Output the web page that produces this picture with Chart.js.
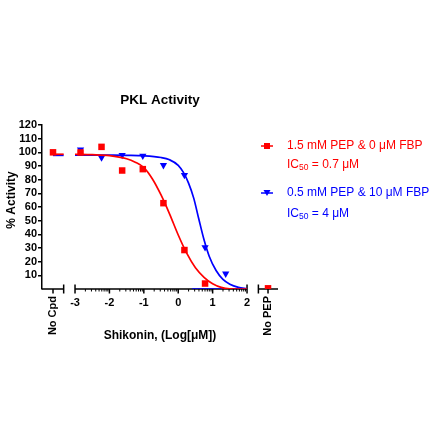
<!DOCTYPE html>
<html lang="en">
<head>
    <meta charset="UTF-8">
    <title>PKL Activity</title>
    <script src="https://cdn.jsdelivr.net/npm/chart.js"></script>
    <style>
        html, body { margin: 0; padding: 0; background: #fff; }
        #chart { display: block; }
    </style>
</head>
<body>
    <canvas id="chart" width="440" height="440"></canvas>

    <script>
        // Shikonin dose, log10[uM] (4-fold dilution series)
        const doseLog = [-2.84, -2.23, -1.63, -1.03, -0.43, 0.18, 0.78, 1.38];
        const redActivity = [99.9, 104, 86.7, 87.7, 62.8, 28.5, 4, null];
        const blueActivity = [102, 96.2, 98, 97.5, 90.6, 83.3, 30.5, 11.2];

        // control columns
        const noCpdX = -3.64;
        const noPepX = 2.61;
        const redNoCpd = 100;
        const redNoPep = 0.5;
        const redNoCpdLine = [98.6, 98.6];
        const blueNoCpdLine = [97.8, 97.8];
        const noCpdLineX = [-3.64, -3.33];

        // fitted curves
        const redFitX = [-3, -2.5, -2, -1.5, -1.25, -1, -0.75, -0.5, -0.25, 0, 0.25, 0.5, 0.75, 1, 1.25, 1.5, 2];
        const redFitY = [98.6, 98.3, 97.6, 95.3, 92.8, 88.8, 80.5, 68.8, 54.8, 39.5, 26, 15.5, 8.5, 3.8, 1.2, 0.2, 0];
        const blueFitX = [-3, -2, -1.5, -1, -0.5, -0.25, 0, 0.15, 0.3, 0.45, 0.6, 0.75, 0.9, 1.1, 1.3, 1.5, 1.75, 2];
        const blueFitY = [98, 97.9, 97.8, 97.5, 96.2, 94.5, 90.5, 85.3, 77.5, 66.5, 51, 36, 24, 13.5, 7, 3.5, 1.2, 0.2];
        const blueBaseX = [0.4, 2];
        const blueBaseY = [0, 0];

        // axis ticks and labels
        const xTickValues = [-3, -2, -1, 0, 1, 2];
        const xCategoryLabels = ['No Cpd', 'No PEP'];
        const yMin = 0, yMax = 120, yStep = 10;

        const chartTitle = 'PKL Activity';
        const xTitle = 'Shikonin, (Log[\u03bcM])';
        const yTitle = '% Activity';
        const seriesLabels = ['1.5 mM PEP & 0 \u03bcM FBP', '0.5 mM PEP & 10 \u03bcM FBP'];
        const ic50Labels = [' = 0.7 \u03bcM', ' = 4 \u03bcM'];

        const RED = 'rgb(255, 0, 0)';
        const BLUE = 'rgb(0, 0, 255)';
        const FONT = '"Liberation Sans", Arial, sans-serif';

        const toPoints = (xs, ys) => xs.map((x, i) => ({ x: x, y: ys[i] }));

        // broken x axis pieces (in axis units)
        const axisPieces = [
            { from: -3.96, to: -3.33, capStart: false, capEnd: true },
            { from: -3, to: 2, capStart: true, capEnd: true },
            { from: 2.33, to: 2.9, capStart: true, capEnd: false }
        ];

        const brokenAxis = {
            id: 'brokenAxis',
            beforeDatasetsDraw(chart) {
                const ctx = chart.ctx;
                const xs = chart.scales.x;
                const y0 = chart.scales.y.getPixelForValue(0);
                ctx.save();
                ctx.strokeStyle = '#000';
                ctx.lineWidth = 1.5;
                ctx.beginPath();
                axisPieces.forEach(p => {
                    const a = xs.getPixelForValue(p.from);
                    const b = xs.getPixelForValue(p.to);
                    ctx.moveTo(a, y0); ctx.lineTo(b, y0);
                    if (p.capStart) { ctx.moveTo(a, y0 - 4.5); ctx.lineTo(a, y0 + 4.5); }
                    if (p.capEnd) { ctx.moveTo(b, y0 - 4.5); ctx.lineTo(b, y0 + 4.5); }
                });
                xTickValues.concat([noCpdX, noPepX]).forEach(v => {
                    const px = xs.getPixelForValue(v);
                    ctx.moveTo(px, y0); ctx.lineTo(px, y0 + 4.5);
                });
                ctx.stroke();
                // log minor ticks
                ctx.lineWidth = 1;
                ctx.beginPath();
                for (let d = -3; d < 2; d++) {
                    for (let k = 2; k <= 9; k++) {
                        const px = xs.getPixelForValue(d + Math.log10(k));
                        ctx.moveTo(px, y0); ctx.lineTo(px, y0 + 2.5);
                    }
                }
                ctx.stroke();
                ctx.restore();
            },
            afterDraw(chart) {
                const ctx = chart.ctx;
                const xs = chart.scales.x;
                const area = chart.chartArea;
                const y0 = chart.scales.y.getPixelForValue(0);
                ctx.save();
                ctx.fillStyle = '#000';

                // numeric tick labels
                ctx.font = 'bold 11px ' + FONT;
                ctx.textAlign = 'center';
                ctx.textBaseline = 'middle';
                xTickValues.forEach(v => {
                    ctx.fillText(String(v), xs.getPixelForValue(v), y0 + 14);
                });

                // vertical category labels
                [noCpdX, noPepX].forEach((v, i) => {
                    ctx.save();
                    ctx.translate(xs.getPixelForValue(v), y0 + 7);
                    ctx.rotate(-Math.PI / 2);
                    ctx.textAlign = 'right';
                    ctx.textBaseline = 'middle';
                    ctx.fillText(xCategoryLabels[i], 0, 0);
                    ctx.restore();
                });

                // axis titles
                ctx.font = 'bold 12px ' + FONT;
                ctx.textAlign = 'center';
                ctx.fillText(xTitle, (area.left + area.right) / 2, 336);
                ctx.save();
                ctx.translate(12, 200);
                ctx.rotate(-Math.PI / 2);
                ctx.fillText(yTitle, 0, 0);
                ctx.restore();

                // chart title
                ctx.font = 'bold 13.5px ' + FONT;
                ctx.fillText(chartTitle, (area.left + area.right) / 2, 100);

                // legend
                const rows = [
                    { color: RED, shape: 'rect', y: 146, y2: 165 },
                    { color: BLUE, shape: 'tri', y: 193, y2: 214 }
                ];
                rows.forEach((r, i) => {
                    ctx.strokeStyle = r.color;
                    ctx.fillStyle = r.color;
                    ctx.lineWidth = 1.5;
                    ctx.beginPath();
                    ctx.moveTo(261, r.y); ctx.lineTo(273, r.y);
                    ctx.stroke();
                    ctx.beginPath();
                    if (r.shape === 'rect') {
                        ctx.rect(264, r.y - 3, 6, 6);
                    } else {
                        ctx.moveTo(263.5, r.y - 3); ctx.lineTo(270.5, r.y - 3); ctx.lineTo(267, r.y + 3);
                        ctx.closePath();
                    }
                    ctx.fill();

                    ctx.textAlign = 'left';
                    ctx.textBaseline = 'middle';
                    ctx.font = '12px ' + FONT;
                    ctx.fillText(seriesLabels[i], 287, r.y);
                    let x = 287;
                    ctx.fillText('IC', x, r.y2);
                    x += ctx.measureText('IC').width;
                    ctx.font = '8.5px ' + FONT;
                    ctx.fillText('50', x, r.y2 + 3);
                    x += ctx.measureText('50').width;
                    ctx.font = '12px ' + FONT;
                    ctx.fillText(ic50Labels[i], x, r.y2);
                });
                ctx.restore();
            }
        };

        const lineStyle = (color) => ({
            showLine: true,
            borderColor: color,
            borderWidth: 1.7,
            pointRadius: 0,
            pointHoverRadius: 0,
            fill: false,
            cubicInterpolationMode: 'monotone'
        });

        const markerStyle = (color, shape, rotation) => ({
            showLine: false,
            backgroundColor: color,
            borderColor: color,
            borderWidth: 0,
            pointStyle: shape,
            pointRotation: rotation,
            pointRadius: 4.6
        });

        new Chart(document.getElementById('chart').getContext('2d'), {
            type: 'scatter',
            data: {
                datasets: [
                    Object.assign({ label: seriesLabels[0], data: toPoints(doseLog, redActivity) }, markerStyle(RED, 'rect', 0)),
                    Object.assign({ data: [{ x: noCpdX, y: redNoCpd }, { x: noPepX, y: redNoPep }] }, markerStyle(RED, 'rect', 0)),
                    Object.assign({ data: toPoints(redFitX, redFitY) }, lineStyle(RED)),
                    Object.assign({ data: toPoints(noCpdLineX, redNoCpdLine) }, lineStyle(RED)),
                    Object.assign({ label: seriesLabels[1], data: toPoints(doseLog, blueActivity) }, markerStyle(BLUE, 'triangle', 180), { pointRadius: 4.2 }),
                    Object.assign({ data: toPoints(blueFitX, blueFitY) }, lineStyle(BLUE)),
                    Object.assign({ data: toPoints(noCpdLineX, blueNoCpdLine) }, lineStyle(BLUE)),
                    Object.assign({ data: toPoints(blueBaseX, blueBaseY) }, lineStyle(BLUE))
                ]
            },
            options: {
                responsive: false,
                animation: false,
                layout: { padding: { top: 125, right: 162, bottom: 151, left: 0 } },
                plugins: {
                    legend: { display: false },
                    title: { display: false },
                    tooltip: { enabled: false }
                },
                scales: {
                    x: {
                        type: 'linear',
                        min: -3.96,
                        max: 2.9,
                        display: false
                    },
                    y: {
                        min: yMin,
                        max: yMax,
                        afterFit(scale) { scale.width = 42; },
                        border: { display: true, color: '#000', width: 1.5 },
                        grid: {
                            drawOnChartArea: false,
                            drawTicks: true,
                            tickLength: 4,
                            lineWidth: 1.5,
                            color: c => (c.tick && c.tick.value === 0) ? 'rgba(0,0,0,0)' : '#000'
                        },
                        ticks: {
                            stepSize: yStep,
                            autoSkip: false,
                            padding: 1,
                            color: '#000',
                            font: { family: FONT, size: 11, weight: 'bold' },
                            callback: v => (v === 0 ? '' : v)
                        }
                    }
                }
            },
            plugins: [brokenAxis]
        });
    </script>
</body>
</html>
